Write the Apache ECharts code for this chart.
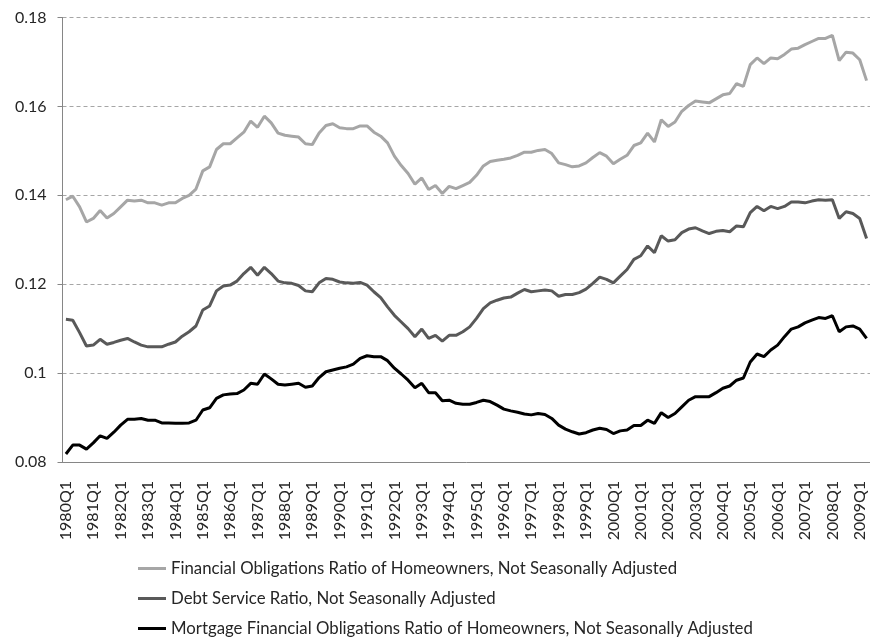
<!DOCTYPE html>
<html>
<head>
<meta charset="utf-8">
<script src="https://cdn.jsdelivr.net/npm/echarts@6/dist/echarts.min.js"></script>
<style>
  html, body { margin: 0; padding: 0; background: #fff; }
  #chart { width: 870px; height: 639px; }
</style>
</head>
<body>
<div id="chart"></div>
<script>
// quarters 1980Q1 .. 2009Q2
const quarters = [];
for (let y = 1980; y <= 2009; y++) {
  for (let q = 1; q <= 4; q++) {
    if (y === 2009 && q > 2) break;
    quarters.push(y + 'Q' + q);
  }
}

const seriesNames = [
  'Financial Obligations Ratio of Homeowners, Not Seasonally Adjusted',
  'Debt Service Ratio, Not Seasonally Adjusted',
  'Mortgage Financial Obligations Ratio of Homeowners, Not Seasonally Adjusted'
];

// Financial obligations ratio of homeowners
const forHome = [
  0.1390, 0.1398, 0.1374, 0.1340, 0.1348, 0.1366, 0.1349, 0.1359, 0.1374, 0.1389,
  0.1387, 0.1389, 0.1383, 0.1383, 0.1378, 0.1383, 0.1383, 0.1393, 0.1400, 0.1414,
  0.1455, 0.1464, 0.1503, 0.1516, 0.1516, 0.1529, 0.1542, 0.1567, 0.1553, 0.1578,
  0.1563, 0.1540, 0.1535, 0.1533, 0.1531, 0.1516, 0.1514, 0.1540, 0.1557, 0.1561,
  0.1552, 0.1550, 0.1550, 0.1556, 0.1556, 0.1542, 0.1533, 0.1518, 0.1488, 0.1467,
  0.1449, 0.1425, 0.1439, 0.1413, 0.1422, 0.1404, 0.1420, 0.1415, 0.1422, 0.1429,
  0.1445, 0.1466, 0.1476, 0.1479, 0.1481, 0.1484, 0.1490, 0.1497, 0.1497, 0.1501,
  0.1503, 0.1494, 0.1473, 0.1469, 0.1464, 0.1466, 0.1473, 0.1485, 0.1496, 0.1488,
  0.1471, 0.1481, 0.1490, 0.1512, 0.1518, 0.1540, 0.1520, 0.1570, 0.1555, 0.1565,
  0.1589, 0.1602, 0.1612, 0.1610, 0.1608, 0.1617, 0.1626, 0.1629, 0.1651, 0.1645,
  0.1694, 0.1709, 0.1696, 0.1709, 0.1707, 0.1717, 0.1729, 0.1731, 0.1739, 0.1746,
  0.1753, 0.1753, 0.1760, 0.1703, 0.1722, 0.1720, 0.1705, 0.1658
];

// Debt service ratio
const dsr = [
  0.1121, 0.1119, 0.1091, 0.1061, 0.1063, 0.1076, 0.1065, 0.1069, 0.1074, 0.1078,
  0.1070, 0.1063, 0.1059, 0.1059, 0.1059, 0.1065, 0.1070, 0.1083, 0.1093, 0.1106,
  0.1142, 0.1151, 0.1185, 0.1196, 0.1198, 0.1207, 0.1224, 0.1238, 0.1220, 0.1238,
  0.1224, 0.1207, 0.1203, 0.1202, 0.1197, 0.1185, 0.1183, 0.1203, 0.1213, 0.1211,
  0.1205, 0.1203, 0.1202, 0.1204, 0.1198, 0.1183, 0.1170, 0.1149, 0.1130, 0.1115,
  0.1100, 0.1082, 0.1099, 0.1078, 0.1085, 0.1072, 0.1085, 0.1085, 0.1093, 0.1104,
  0.1123, 0.1145, 0.1158, 0.1164, 0.1169, 0.1171, 0.1180, 0.1188, 0.1183, 0.1185,
  0.1187, 0.1185, 0.1173, 0.1177, 0.1177, 0.1181, 0.1189, 0.1202, 0.1216, 0.1211,
  0.1203, 0.1218, 0.1233, 0.1256, 0.1264, 0.1286, 0.1271, 0.1309, 0.1297, 0.1300,
  0.1316, 0.1324, 0.1327, 0.1320, 0.1314, 0.1319, 0.1321, 0.1318, 0.1331, 0.1329,
  0.1361, 0.1375, 0.1365, 0.1375, 0.1370, 0.1375, 0.1385, 0.1385, 0.1383, 0.1387,
  0.1390, 0.1389, 0.1390, 0.1348, 0.1363, 0.1359, 0.1348, 0.1303
];

// Mortgage financial obligations ratio of homeowners
const mortgage = [
  0.0818, 0.0838, 0.0838, 0.0829, 0.0843, 0.0859, 0.0853, 0.0867, 0.0883, 0.0896,
  0.0896, 0.0898, 0.0894, 0.0894, 0.0888, 0.0888, 0.0887, 0.0887, 0.0888, 0.0894,
  0.0917, 0.0922, 0.0943, 0.0951, 0.0953, 0.0954, 0.0962, 0.0977, 0.0975, 0.0998,
  0.0987, 0.0975, 0.0973, 0.0975, 0.0977, 0.0968, 0.0971, 0.0990, 0.1003, 0.1007,
  0.1011, 0.1014, 0.1020, 0.1033, 0.1039, 0.1037, 0.1037, 0.1028, 0.1011, 0.0998,
  0.0984, 0.0967, 0.0977, 0.0956, 0.0956, 0.0938, 0.0939, 0.0932, 0.0930, 0.0930,
  0.0934, 0.0939, 0.0936, 0.0928, 0.0919, 0.0915, 0.0912, 0.0908, 0.0906, 0.0909,
  0.0907, 0.0898, 0.0883, 0.0874, 0.0868, 0.0863, 0.0866, 0.0872, 0.0876, 0.0873,
  0.0864, 0.0870, 0.0872, 0.0882, 0.0882, 0.0894, 0.0887, 0.0911, 0.0900, 0.0909,
  0.0924, 0.0939, 0.0947, 0.0947, 0.0947, 0.0956, 0.0966, 0.0971, 0.0984, 0.0989,
  0.1025, 0.1043, 0.1037, 0.1052, 0.1063, 0.1082, 0.1099, 0.1104, 0.1113, 0.1119,
  0.1125, 0.1123, 0.1129, 0.1093, 0.1104, 0.1106, 0.1099, 0.1078
];

const chart = echarts.init(document.getElementById('chart'));

const font = 'Lato, "Open Sans", sans-serif';
const axisGray = '#868686';

// one legend per row, stacked like the original
const legendTops = [560, 590, 620];
const legends = seriesNames.map(function (name, i) {
  return {
    left: 138,
    top: legendTops[i],
    padding: 0,
    icon: 'rect',
    itemWidth: 28,
    itemHeight: 3,
    textStyle: { fontFamily: font, fontSize: 16.8, color: '#262626' },
    data: [name]
  };
});

const option = {
  animation: false,
  backgroundColor: '#fff',
  grid: {
    left: 62.5,
    right: 0,
    top: 17.5,
    bottom: 177
  },
  legend: legends,
  xAxis: {
    type: 'category',
    data: quarters,
    boundaryGap: true,
    axisLine: { lineStyle: { color: axisGray, width: 1 } },
    axisTick: { interval: 0, length: 5, lineStyle: { color: axisGray } },
    axisLabel: {
      interval: 3,
      rotate: 90,
      margin: 19,
      fontFamily: font,
      fontSize: 16,
      color: '#262626'
    },
    splitLine: { show: false }
  },
  yAxis: {
    type: 'value',
    min: 0.08,
    max: 0.18,
    interval: 0.02,
    axisLine: { show: true, lineStyle: { color: axisGray, width: 1 } },
    axisTick: { show: true, length: 5, lineStyle: { color: axisGray } },
    axisLabel: {
      margin: 16,
      fontFamily: font,
      fontSize: 16,
      color: '#262626',
      formatter: function (v) { return String(+v.toFixed(2)); }
    },
    splitLine: { lineStyle: { color: '#a6a6a6', type: [4, 3], width: 1 } }
  },
  series: [
    {
      name: seriesNames[0],
      type: 'line',
      data: forHome,
      symbol: 'none',
      lineStyle: { color: '#a6a6a6', width: 3 },
      itemStyle: { color: '#a6a6a6' }
    },
    {
      name: seriesNames[1],
      type: 'line',
      data: dsr,
      symbol: 'none',
      lineStyle: { color: '#595959', width: 3 },
      itemStyle: { color: '#595959' }
    },
    {
      name: seriesNames[2],
      type: 'line',
      data: mortgage,
      symbol: 'none',
      lineStyle: { color: '#000000', width: 3 },
      itemStyle: { color: '#000000' }
    }
  ]
};

chart.setOption(option);
</script>
</body>
</html>
